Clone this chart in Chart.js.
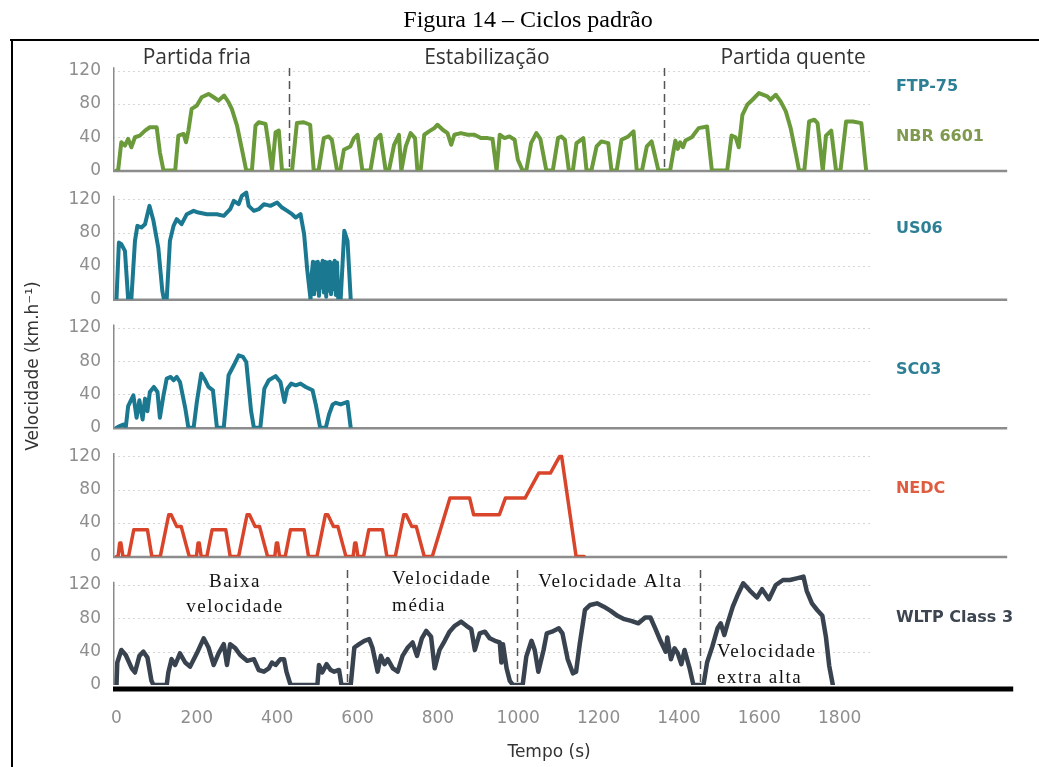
<!DOCTYPE html>
<html lang="pt">
<head>
<meta charset="utf-8">
<title>Ciclos padrão</title>
<script src="https://cdn.jsdelivr.net/npm/chart.js@4.4.1/dist/chart.umd.min.js"></script>
<style>
  html, body { margin: 0; padding: 0; background: #ffffff; }
  canvas { display: block; }
</style>
</head>
<body>
<canvas id="ciclos" width="1039" height="767"></canvas>
<script>
// ---- Velocidade (km/h) versus tempo (s) de cada ciclo ----
const ftpTime = [0,4,12,21,29,37,46,58,71,83,
  100,108,117,146,154,167,173,179,187,200,
  212,229,242,254,268,279,287,300,312,323,
  337,346,354,371,379,387,396,404,412,437,
  449,466,482,491,503,516,528,536,549,557,
  566,582,591,600,612,632,645,657,670,678,
  691,703,709,720,732,743,749,757,766,778,
  791,799,812,824,833,841,857,874,891,907,
  924,936,946,954,966,978,991,999,1011,1020,
  1032,1045,1055,1062,1070,1086,1099,1107,1116,1126,
  1136,1145,1162,1170,1182,1195,1207,1224,1232,1245,
  1257,1274,1287,1295,1308,1320,1332,1349,1378,1391,
  1397,1403,1410,1416,1432,1449,1470,1482,1520,1531,
  1541,1549,1558,1570,1583,1599,1620,1628,1641,1653,
  1666,1678,1691,1699,1712,1724,1737,1745,1758,1766,
  1779,1791,1802,1816,1833,1854,1866];
const ftpSpeed = [0,0,34,30,38,28,40,42,48,52,
  52,22,0,0,42,44,34,48,74,78,
  88,92,88,84,90,82,74,54,26,0,
  0,54,58,56,30,0,46,48,0,0,
  57,58,55,0,0,39,41,37,0,0,
  25,29,39,43,0,0,37,43,0,0,
  31,43,0,29,45,39,0,0,43,47,
  51,55,49,45,31,43,45,43,43,39,
  39,38,0,43,39,41,37,13,0,0,
  33,45,38,20,0,0,39,41,37,0,
  0,33,39,0,0,29,35,33,0,0,
  37,41,47,0,0,29,35,0,0,36,
  26,34,28,36,40,51,53,0,0,42,
  40,28,67,79,85,93,89,85,91,83,
  71,51,20,0,0,59,61,57,0,42,
  48,0,0,59,59,57,0];

const us06Time = [0,6,12,21,29,37,46,52,62,71,
  82,92,104,114,118,125,133,142,150,162,
  175,192,204,225,250,267,283,292,304,312,
  323,329,342,354,367,383,400,412,425,437,
  446,458,467,475,483,486,489,492,495,498,
  501,504,507,510,513,516,519,522,525,528,
  531,534,537,540,543,546,549,552,558,567,
  575,583];
const us06Speed = [0,68,66,58,0,0,70,88,86,90,
  112,94,62,10,0,0,70,88,96,90,
  102,106,104,102,102,100,108,118,114,124,
  128,112,106,108,114,112,116,110,106,102,
  98,102,78,34,0,30,45,6,44,12,
  45,4,42,14,46,8,45,3,44,10,
  45,6,43,12,46,5,44,0,0,82,
  70,0];

const sc03Time = [0,8,17,23,29,42,50,57,65,71,
  77,83,93,102,108,117,125,135,142,150,
  158,171,179,192,200,211,221,229,240,250,
  267,279,292,304,315,323,335,342,358,368,
  379,396,408,418,425,435,446,458,471,488,
  496,507,521,529,538,546,558,575,583];
const sc03Speed = [0,2,4,0,26,39,12,33,10,35,
  20,43,49,43,12,39,59,61,57,61,
  55,24,0,0,31,65,57,49,45,0,
  0,63,75,87,85,79,20,0,0,47,
  57,62,55,31,47,53,51,53,49,45,
  28,0,0,16,28,30,28,31,0];

const nedcTime = [0,4,8,11,16,30,43,77,88,109,
  130,136,150,161,181,199,203,206,211,225,
  238,272,283,304,325,331,345,356,376,394,
  398,401,406,420,433,467,478,499,520,526,
  540,551,571,589,593,596,601,615,628,662,
  673,694,715,721,735,746,766,786,830,879,
  889,953,968,1017,1051,1080,1103,1108,1144,1164];
const nedcSpeed = [0,0,16,16,0,0,32,32,0,0,
  50,50,36,36,0,0,16,16,0,0,
  32,32,0,0,50,50,36,36,0,0,
  16,16,0,0,32,32,0,0,50,50,
  36,36,0,0,16,16,0,0,32,32,
  0,0,50,50,36,36,0,0,70,70,
  50,50,70,70,100,100,120,120,0,0];

const wltpTime = [0,2,12,23,38,46,57,67,77,87,
  92,125,129,137,146,158,171,183,200,217,
  229,242,254,267,275,283,296,308,325,342,
  354,367,379,387,396,408,417,423,432,435,
  500,504,512,523,533,542,554,560,583,592,
  604,617,629,637,650,658,667,675,688,700,
  712,725,737,748,760,771,783,792,804,817,
  829,842,858,871,883,892,904,917,929,942,
  954,958,962,971,979,987,1011,1020,1033,1041,
  1050,1063,1071,1084,1101,1110,1123,1136,1144,1153,
  1166,1179,1196,1213,1230,1247,1264,1281,1299,1316,
  1329,1341,1354,1367,1371,1380,1389,1397,1406,1414,
  1427,1436,1461,1470,1483,1496,1504,1513,1521,1534,
  1547,1560,1577,1594,1607,1624,1641,1659,1676,1693,
  1710,1718,1731,1744,1757,1766,1774,1783];
const wltpSpeed = [0,27,42,36,20,15,35,40,33,5,
  0,0,15,31,24,38,27,22,38,56,
  45,24,38,49,24,49,44,36,29,31,
  18,16,20,27,24,31,31,16,2,0,
  0,24,15,25,18,16,18,0,0,45,
  49,53,55,45,16,35,25,31,20,16,
  35,45,51,35,56,65,58,20,42,53,
  64,71,76,71,67,42,62,64,56,53,
  51,27,49,20,5,0,0,34,53,42,
  16,42,62,64,68,62,31,14,16,49,
  90,96,98,94,89,83,79,77,74,81,
  81,68,53,40,57,31,44,38,25,42,
  19,0,0,27,46,68,74,60,74,94,
  109,122,113,105,115,103,120,126,126,128,
  130,113,98,90,83,57,23,0];

// ---- Eixos e fases ----
const yTicks = [0, 40, 80, 120];
const xTicks = [0, 200, 400, 600, 800, 1000, 1200, 1400, 1600, 1800];
const ftpPhaseBounds = [429, 1364];
const ftpPhaseNames = ['Partida fria', 'Estabilização', 'Partida quente'];
const ftpPhaseNameAt = [200, 922, 1684];
const wltpPhaseBounds = [573, 997, 1453];

// ---- Layout ----
const X_MIN = -8.7, X_MAX = 2224, Y_MAX = 154.3;
const GRID_END = 1876, BASE_END = 2217, AXIS_END = 2232;
const LABEL_AT = 1940;

const panels = [
  { axis: 'yFTP', time: ftpTime, speed: ftpSpeed, color: '#6a9a3a', width: 4,
    names: [{ text: 'FTP-75', v: 100, color: '#2c7f95' }, { text: 'NBR 6601', v: 40, color: '#7f9a4e' }] },
  { axis: 'yUS06', time: us06Time, speed: us06Speed, color: '#1a7891', width: 4,
    names: [{ text: 'US06', v: 84, color: '#2c7f95' }] },
  { axis: 'ySC03', time: sc03Time, speed: sc03Speed, color: '#1a7891', width: 4,
    names: [{ text: 'SC03', v: 69, color: '#2c7f95' }] },
  { axis: 'yNEDC', time: nedcTime, speed: nedcSpeed, color: '#d8452a', width: 3.5,
    names: [{ text: 'NEDC', v: 81, color: '#de5c3f' }] },
  { axis: 'yWLTP', time: wltpTime, speed: wltpSpeed, color: '#38434f', width: 4.5,
    names: [{ text: 'WLTP Class 3', v: 81, color: '#3c4550' }] }
];

const wltpNotes = [
  { lines: ['Baixa', 'velocidade'], t: 295, v: [124, 94], align: 'center' },
  { lines: ['Velocidade', 'média'], t: 686, v: [127, 95], align: 'left' },
  { lines: ['Velocidade Alta'], t: 1050, v: [123], align: 'left' },
  { lines: ['Velocidade', 'extra alta'], t: 1495, v: [40, 8], align: 'left' }
];

Chart.defaults.font.family = '"DejaVu Sans", sans-serif';

const scales = {
  x: {
    type: 'linear', min: X_MIN, max: X_MAX,
    grid: { display: false, drawTicks: false },
    border: { display: false },
    afterBuildTicks: s => { s.ticks = xTicks.map(v => ({ value: v })); },
    afterFit: s => { s.height = 82; },
    ticks: { padding: 23, color: '#8e8e8e', font: { size: 17 }, maxRotation: 0, autoSkip: false,
             callback: v => String(v) }
  }
};
panels.forEach((p, i) => {
  scales[p.axis] = {
    type: 'linear', position: 'left', stack: 'ciclos', stackWeight: 1,
    weight: panels.length - i, min: 0, max: Y_MAX,
    grid: { display: false, drawTicks: false },
    border: { display: false },
    afterBuildTicks: s => { s.ticks = yTicks.map(v => ({ value: v })); },
    afterFit: s => { s.width = 113; },
    ticks: { padding: 12, color: '#8e8e8e', font: { size: 17 }, autoSkip: false,
             callback: v => String(v) }
  };
});

function line(ctx, x1, y1, x2, y2) {
  ctx.beginPath(); ctx.moveTo(x1, y1); ctx.lineTo(x2, y2); ctx.stroke();
}

const decor = {
  id: 'decor',
  beforeDatasetsDraw(chart) {
    const ctx = chart.ctx, xs = chart.scales.x;
    panels.forEach((p, i) => {
      const ys = chart.scales[p.axis];
      ctx.save();
      // dotted grid lines
      ctx.strokeStyle = '#d6d6d6'; ctx.lineWidth = 1; ctx.setLineDash([2, 3]);
      yTicks.slice(1).forEach(v => {
        const py = Math.round(ys.getPixelForValue(v)) + 0.5;
        line(ctx, xs.getPixelForValue(X_MIN), py, xs.getPixelForValue(GRID_END), py);
      });
      ctx.setLineDash([]);
      // vertical axis
      ctx.strokeStyle = '#8a8a8a'; ctx.lineWidth = 1.5;
      const ax = xs.getPixelForValue(X_MIN) + 0.75;
      line(ctx, ax, ys.getPixelForValue(0), ax, ys.getPixelForValue(124));
      // zero line of the panel
      if (i < panels.length - 1) {
        ctx.strokeStyle = '#8c8c8c'; ctx.lineWidth = 2.5;
        const by = ys.getPixelForValue(0) + 0.5;
        line(ctx, xs.getPixelForValue(X_MIN), by, xs.getPixelForValue(BASE_END), by);
      }
      ctx.restore();
    });
    // phase dividers
    ctx.save();
    ctx.strokeStyle = '#555'; ctx.lineWidth = 1.5; ctx.setLineDash([8, 5]);
    const yf = chart.scales.yFTP, yw = chart.scales.yWLTP;
    ftpPhaseBounds.forEach(t => {
      const px = Math.round(xs.getPixelForValue(t)) + 0.5;
      line(ctx, px, yf.getPixelForValue(123), px, yf.getPixelForValue(0));
    });
    wltpPhaseBounds.forEach(t => {
      const px = Math.round(xs.getPixelForValue(t)) + 0.5;
      line(ctx, px, yw.getPixelForValue(138), px, yw.getPixelForValue(0));
    });
    ctx.restore();
  },
  afterDatasetsDraw(chart) {
    const ctx = chart.ctx, xs = chart.scales.x;
    const yw = chart.scales.yWLTP, yf = chart.scales.yFTP;
    ctx.save();
    // heavy time axis under the last panel
    ctx.strokeStyle = '#000'; ctx.lineWidth = 5;
    const by = yw.getPixelForValue(0) + 4;
    line(ctx, xs.getPixelForValue(X_MIN), by, xs.getPixelForValue(AXIS_END), by);

    ctx.textBaseline = 'middle';
    // cycle names
    ctx.textAlign = 'left';
    ctx.font = 'bold 16px "DejaVu Sans"';
    panels.forEach(p => {
      const ys = chart.scales[p.axis];
      p.names.forEach(n => {
        ctx.fillStyle = n.color;
        ctx.fillText(n.text, xs.getPixelForValue(LABEL_AT), ys.getPixelForValue(n.v));
      });
    });
    // FTP phase names
    ctx.textAlign = 'center';
    ctx.fillStyle = '#333';
    ctx.font = '21px "Open Sans"';
    ftpPhaseNames.forEach((s, k) => {
      ctx.fillText(s, xs.getPixelForValue(ftpPhaseNameAt[k]), yf.getPixelForValue(135));
    });
    // WLTP phase notes
    ctx.fillStyle = '#111';
    ctx.font = '19px "Liberation Serif"';
    ctx.letterSpacing = '1.5px';
    wltpNotes.forEach(n => {
      ctx.textAlign = n.align;
      n.lines.forEach((s, k) => ctx.fillText(s, xs.getPixelForValue(n.t), yw.getPixelForValue(n.v[k])));
    });
    ctx.letterSpacing = '0px';
    // axis titles
    ctx.fillStyle = '#333';
    ctx.font = '17px "DejaVu Sans"';
    ctx.textAlign = 'center';
    ctx.fillText('Tempo (s)', 549, 753);
    ctx.save();
    ctx.translate(34, 366);
    ctx.rotate(-Math.PI / 2);
    ctx.fillText('Velocidade (km.h⁻¹)', 0, 0);
    ctx.restore();
    // figure caption and frame
    ctx.fillStyle = '#000';
    ctx.font = '24px "Liberation Serif"';
    ctx.fillText('Figura 14 – Ciclos padrão', 528, 21);
    ctx.strokeStyle = '#000'; ctx.lineWidth = 2;
    line(ctx, 10, 40, 1039, 40);
    line(ctx, 12, 40, 12, 767);
    ctx.restore();
  }
};

new Chart(document.getElementById('ciclos'), {
  type: 'line',
  data: {
    datasets: panels.map(p => ({
      data: p.time.map((t, k) => ({ x: t, y: p.speed[k] })),
      yAxisID: p.axis,
      borderColor: p.color,
      borderWidth: p.width,
      pointRadius: 0,
      tension: 0,
      fill: false,
      borderJoinStyle: 'round',
      borderCapStyle: 'round'
    }))
  },
  options: {
    responsive: false,
    animation: false,
    layout: { padding: { top: 42, right: 29, bottom: 0, left: 0 } },
    plugins: { legend: { display: false }, tooltip: { enabled: false }, title: { display: false } },
    scales
  },
  plugins: [decor]
});
</script>
</body>
</html>
